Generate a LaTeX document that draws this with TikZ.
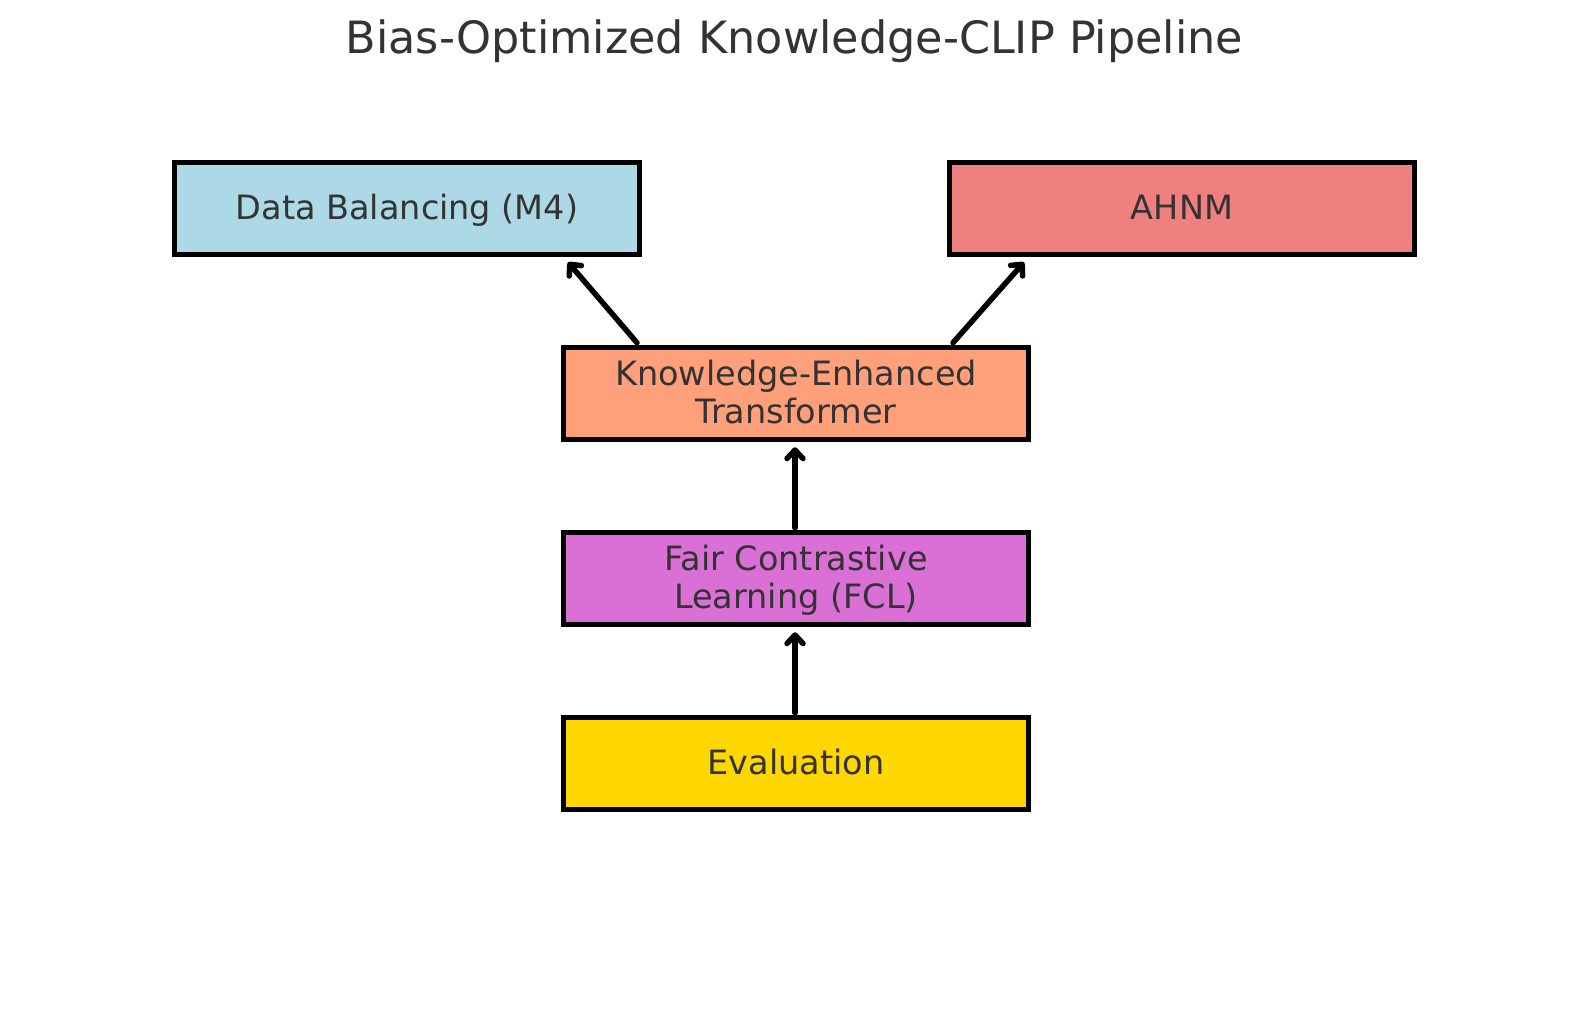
\documentclass[tikz,border=0pt]{standalone}
\usepackage{fontspec}
\setmainfont{DejaVu Sans}
\usetikzlibrary{arrows.meta}
\definecolor{cLightBlue}{HTML}{ADD8E6}
\definecolor{cCoral}{HTML}{F08080}
\definecolor{cSalmon}{HTML}{FFA07A}
\definecolor{cOrchid}{HTML}{DA70D6}
\definecolor{cGold}{HTML}{FFD700}
\definecolor{cText}{HTML}{333333}
\newcommand{\topstrut}{\rule{0pt}{30pt}}
\newcommand{\botstrut}{\rule[-8pt]{0pt}{8pt}}
\begin{document}
\begin{tikzpicture}[x=1pt,y=-1pt,
  stagebox/.style={draw=black, line width=5.5pt, minimum width=465pt, minimum height=92pt,
    inner sep=0pt, align=center, text=cText, font=\fontsize{33.5}{38.5}\selectfont},
  flowarrow/.style={line width=5.5pt, draw=black, line cap=round,
    -{Straight Barb[length=8.5pt, width=16pt, line join=round, line cap=round]}}]
\useasboundingbox[fill=white] (0,0) rectangle (1589,1014);
\node[anchor=base, text=cText, font=\fontsize{44.5}{52}\selectfont, inner sep=0pt] (title) at (794.5,54) {Bias-Optimized Knowledge-CLIP Pipeline};
\node[stagebox, fill=cLightBlue] (db) at (407,208.5) {\topstrut Data Balancing (M4)\botstrut};
\node[stagebox, fill=cCoral] (ahnm) at (1182,208.5) {\topstrut AHNM\botstrut};
\node[stagebox, fill=cSalmon] (ket) at (796,393.5) {\topstrut Knowledge-Enhanced\\Transformer\botstrut};
\node[stagebox, fill=cOrchid] (fcl) at (796,578.5) {\topstrut Fair Contrastive\\Learning (FCL)\botstrut};
\node[stagebox, fill=cGold] (eval) at (796,763.5) {\topstrut Evaluation\botstrut};
\draw[flowarrow] ([xshift=-159pt,yshift=2pt]ket.north) -- ([xshift=161pt,yshift=-5pt]db.south);
\draw[flowarrow] ([xshift=157pt,yshift=2pt]ket.north) -- ([xshift=-158pt,yshift=-5pt]ahnm.south);
\draw[flowarrow] ([xshift=-1pt,yshift=2pt]fcl.north) -- ([xshift=-1pt,yshift=-5pt]ket.south);
\draw[flowarrow] ([xshift=-1pt,yshift=2pt]eval.north) -- ([xshift=-1pt,yshift=-5pt]fcl.south);
\end{tikzpicture}
\end{document}
